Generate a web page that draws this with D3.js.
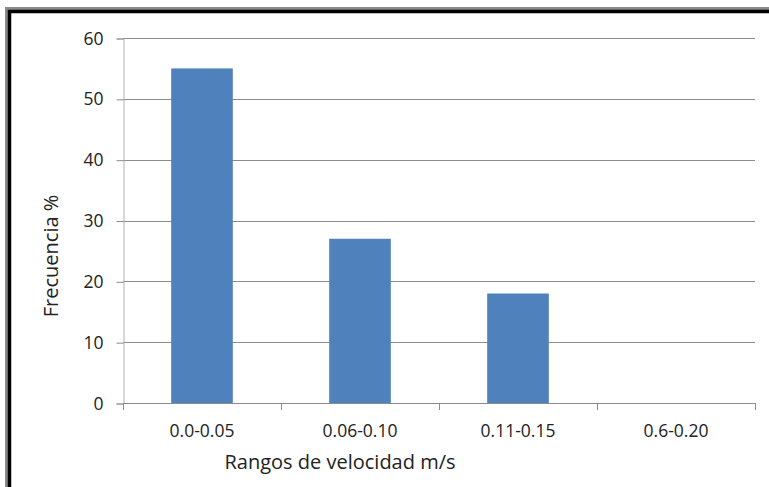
<!DOCTYPE html>
<html><head><meta charset="utf-8">
<script src="https://cdn.jsdelivr.net/npm/d3@7"></script>
<style>
html,body{margin:0;padding:0;background:#fff;}
svg{display:block;}
text{font-family:"Open Sans",Lato,sans-serif;fill:#222;}
</style></head>
<body><svg id="c" width="769" height="487"></svg>
<script>
const categories = ["0.0-0.05","0.06-0.10","0.11-0.15","0.6-0.20"];
const values = [55, 27, 18, 0];
const yTicks = [0,10,20,30,40,50,60];
const xTitle = "Rangos de velocidad m/s";
const yTitle = "Frecuencia %";

const svg = d3.select("#c");
const pLeft = 123, pRight = 755, pTop = 38, pBottom = 403;
const FONT = "'Open Sans',Lato,sans-serif";

// frame (top & left border)
svg.append("rect").attr("x",8).attr("y",10).attr("width",800).attr("height",500)
  .attr("fill","none").attr("stroke","#8a8a8a").attr("stroke-width",6);
svg.append("rect").attr("x",9.5).attr("y",11.5).attr("width",800).attr("height",500)
  .attr("fill","none").attr("stroke","#000").attr("stroke-width",3.5);

const x = d3.scaleBand().domain(categories).range([pLeft,pRight]).paddingInner(0.61).paddingOuter(0.305);
const xb = d3.scaleBand().domain(categories).range([pLeft,pRight]);
const y = d3.scaleLinear().domain([0,60]).range([pBottom,pTop]);

// gridlines
svg.append("g").selectAll("line").data(yTicks.filter(d=>d>0)).join("line")
  .attr("x1",pLeft).attr("x2",pRight).attr("y1",d=>Math.round(y(d))+0.5).attr("y2",d=>Math.round(y(d))+0.5)
  .attr("stroke","#8c8c8c").attr("stroke-width",1);

// bars
svg.append("g").selectAll("rect").data(values).join("rect")
  .attr("x",(d,i)=>x(categories[i])).attr("width",x.bandwidth())
  .attr("y",d=>y(d)).attr("height",d=>y(0)-y(d))
  .attr("fill","#4f81bd");

// y axis
const yAxis = d3.axisLeft(y).tickValues(yTicks).tickSize(7).tickPadding(13);
const gy = svg.append("g").attr("transform",`translate(${pLeft+0.5},0.5)`).call(yAxis);
gy.select(".domain").attr("stroke","#b0b0b0");
gy.selectAll(".tick line").attr("stroke","#8c8c8c");
gy.selectAll(".tick text").attr("font-size",17.5).attr("fill","#222").style("font-family",FONT);

// x axis
const xAxis = d3.axisBottom(xb).tickSize(0).tickPadding(21);
const gx = svg.append("g").attr("transform",`translate(0,${pBottom+0.5})`).call(xAxis);
gx.select(".domain").attr("stroke","#8c8c8c").attr("d",`M${pLeft},0H${pRight}`);
gx.selectAll(".tick text").attr("font-size",17.5).attr("fill","#222").style("font-family",FONT);
// category boundary ticks
const bounds = categories.map(c=>xb(c)).concat([pRight]);
svg.append("g").selectAll("line").data(bounds).join("line")
  .attr("x1",d=>Math.round(d)+0.5).attr("x2",d=>Math.round(d)+0.5)
  .attr("y1",pBottom).attr("y2",pBottom+7).attr("stroke","#8c8c8c");

// titles
svg.append("text").attr("x",340).attr("y",469).attr("text-anchor","middle")
  .attr("font-size",20).attr("fill","#111").style("font-family",FONT).text(xTitle);
svg.append("text").attr("transform","translate(58,256) rotate(-90)").attr("text-anchor","middle")
  .attr("font-size",20).attr("fill","#111").style("font-family",FONT).text(yTitle);
</script></body></html>
